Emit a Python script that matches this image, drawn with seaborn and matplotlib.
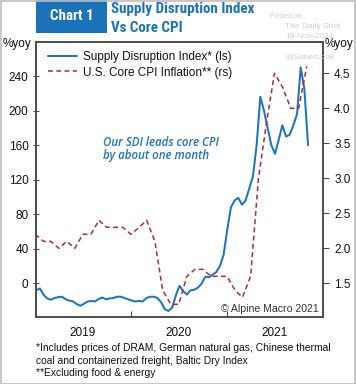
import matplotlib
matplotlib.use("Agg")
import matplotlib.pyplot as plt
import matplotlib.dates as mdates
from matplotlib.lines import Line2D
from matplotlib.patches import Rectangle
import numpy as np
import pandas as pd
import seaborn as sns

# ---------------- data ----------------
sdi_start = "2019-01-04"
sdi_step = "14D"
sdi_values = [-8, -6, -13.5, -17.5, -19, -17, -16, -15.5, -18.5, -20,
              -21, -24, -26, -23.5, -21, -20.5, -21, -18, -16.5, -18.5,
              -17.5, -17, -15.5, -15.5, -17, -18.5, -20, -21, -20.5, -21,
              -17, -15.5, -15.5, -17, -22, -30, -32, -28, -14, -3,
              -9, -13, -8, -7.5, -5, -0.5, 7.5, 7, 10, 13,
              20, 33, 62, 88, 96, 99, 91, 96, 110, 124,
              160, 216, 200, 180, 160, 150, 166, 183, 170, 172,
              183, 196, 250, 225, 160]

cpi_first_month = "2018-12-01"
cpi_values = [2.2, 2.1, 2.1, 2.0, 2.1, 2.0, 2.2, 2.2, 2.4, 2.3,
              2.3, 2.3, 2.2, 2.3, 2.4, 2.1, 1.4, 1.2, 1.2, 1.6,
              1.7, 1.7, 1.6, 1.6, 1.6, 1.4, 1.3, 1.6, 3.0, 3.8,
              4.5, 4.3, 4.0, 4.0, 4.6]

left_ticks = [0, 40, 80, 120, 160, 200, 240]
right_ticks = [1.5, 2.0, 2.5, 3.0, 3.5, 4.0, 4.5]
year_labels = ["2019", "2020", "2021"]

legend_labels = ["Supply Disruption Index* (ls)", "U.S. Core CPI Inflation** (rs)"]
title_box = "Chart 1"
title_lines = ["Supply Disruption Index", "Vs Core CPI"]
annotation = "Our SDI leads core CPI\nby about one month"
footnotes = ["*Includes prices of DRAM, German natural gas, Chinese thermal",
             "coal and containerized freight, Baltic Dry Index",
             "**Excluding food & energy"]
watermark = ["Posted on", "The Daily Shot", "18-Nov-2021", "@SoberLook"]

sdi_dates = pd.date_range(sdi_start, periods=len(sdi_values), freq=sdi_step)
cpi_dates = pd.date_range(cpi_first_month, periods=len(cpi_values), freq="MS") + pd.offsets.MonthEnd(0)
sdi_df = pd.DataFrame({"date": sdi_dates, "value": sdi_values})
cpi_df = pd.DataFrame({"date": cpi_dates, "value": cpi_values})

# ---------------- style ----------------
sns.set_theme(style="white")
plt.rcParams["font.family"] = ["Liberation Sans", "DejaVu Sans"]

BLUE = "#1f74be"
RED = "#b02a3a"
FRAME = "#4d4d4d"
W, H = 356, 384
TITLE_FAMILY = ["Liberation Sans Narrow", "Roboto Condensed", "Roboto", "DejaVu Sans"]

fig = plt.figure(figsize=(W / 100, H / 100), dpi=100)
ax = fig.add_axes([35.5 / W, 1 - 317 / H, (323 - 35.5) / W, (317 - 42) / H])
ax2 = ax.twinx()

sns.lineplot(data=sdi_df, x="date", y="value", ax=ax, color=BLUE, linewidth=1.45)
sns.lineplot(data=cpi_df, x="date", y="value", ax=ax2, color=RED, linewidth=1.1,
             linestyle=(0, (3.2, 2.2)))

ax.set_xlim(pd.Timestamp("2019-01-01"), pd.Timestamp("2022-01-01"))
ax.set_ylim(-39, 279.4)
ax2.set_ylim(1.019, 4.947)

for a in (ax, ax2):
    a.set_xlabel("")
    a.set_ylabel("")
    for s in a.spines.values():
        s.set_color(FRAME)
        s.set_linewidth(1.2)

ax.set_yticks(left_ticks)
ax.set_yticklabels([str(t) for t in left_ticks])
ax2.set_yticks(right_ticks)
ax2.set_yticklabels([f"{t:.1f}" for t in right_ticks])
ax.tick_params(axis="y", which="both", left=True, direction="inout", length=5,
               width=0.8, color=FRAME, labelsize=8.5, pad=2.5, labelcolor="#111111")
ax2.tick_params(axis="y", which="both", right=True, direction="out", length=4,
                width=0.8, color=FRAME, labelsize=8.5, pad=4, labelcolor="#111111")

# x axis: ticks at year boundaries, labels centred in year
ax.xaxis.set_major_locator(mdates.YearLocator())
ax.xaxis.set_major_formatter(plt.NullFormatter())
ax.xaxis.set_minor_locator(mdates.MonthLocator(bymonth=7, bymonthday=1))
ax.xaxis.set_minor_formatter(mdates.DateFormatter("%Y"))
ax.tick_params(axis="x", which="major", bottom=True, direction="in", length=4,
               width=0.8, color=FRAME)
ax.tick_params(axis="x", which="minor", bottom=True, length=0, labelsize=8.5,
               pad=7, labelcolor="#111111")

# legend
handles = [Line2D([0], [0], color=BLUE, linewidth=1.45),
           Line2D([0], [0], color=RED, linewidth=1.1, linestyle=(0, (3.2, 2.2)))]
leg = ax2.legend(handles, legend_labels, loc="upper left",
                 bbox_to_anchor=(0.045, 0.968), frameon=False, fontsize=8.5,
                 handlelength=2.45, handletextpad=0.45, labelspacing=0.32,
                 borderaxespad=0, borderpad=0)
for t in leg.get_texts():
    t.set_color("#111111")

# annotation
ax.text((103 - 35.5) / 287.5, 1 - (135.5 - 42) / 275, annotation, transform=ax.transAxes,
        ha="left", va="top", fontsize=8.3, color=BLUE, style="italic",
        fontweight="semibold", family=["Open Sans", "DejaVu Sans"], linespacing=1.05)

ax.text((319 - 35.5) / 287.5, (317 - 308.5) / 275, "© Alpine Macro 2021",
        transform=ax.transAxes, ha="right", va="center", fontsize=7.6, color="#333333")

# figure-level texts
fig.add_artist(Rectangle((36 / W, 1 - 33 / H), 71 / W, 33 / H, transform=fig.transFigure,
                         facecolor="#1a72bb", edgecolor="none"))
fig.text(71.5 / W, 1 - 15.5 / H, title_box, ha="center", va="center", color="white",
         fontsize=10.8, fontweight="bold", family=TITLE_FAMILY)
fig.text(111 / W, 1 - 9.5 / H, title_lines[0], ha="left", va="center", color="#1a72bb",
         fontsize=10.8, fontweight="bold", family=TITLE_FAMILY)
fig.text(111 / W, 1 - 28 / H, title_lines[1], ha="left", va="center", color="#1a72bb",
         fontsize=10.8, fontweight="bold", family=TITLE_FAMILY)

fig.text(3 / W, 1 - 44 / H, "%yoy", ha="left", va="center", fontsize=8.5, color="#111111")
fig.text(325 / W, 1 - 44 / H, "%yoy", ha="left", va="center", fontsize=8.5, color="#111111",
         zorder=5)

for txt, yy in zip(footnotes, [347.7, 361, 373]):
    fig.text(36 / W, 1 - yy / H, txt, ha="left", va="center", fontsize=7.4, color="#111111")

wm_pos = [(270, 16), (285, 27), (285, 37), (285, 57)]
for txt, (xx, yy) in zip(watermark, wm_pos):
    fig.text(xx / W, 1 - yy / H, txt, ha="left", va="center",
             fontsize=5.0 if txt == "Posted on" else 6.0, color="#cdcdcd", zorder=1)

fig.add_artist(Rectangle((0.5 / W, 0.5 / H), (W - 1.5) / W, (H - 1.5) / H,
                         transform=fig.transFigure, facecolor="none",
                         edgecolor="#bdbdbd", linewidth=1.2))

fig.savefig("out.png", dpi=100)
